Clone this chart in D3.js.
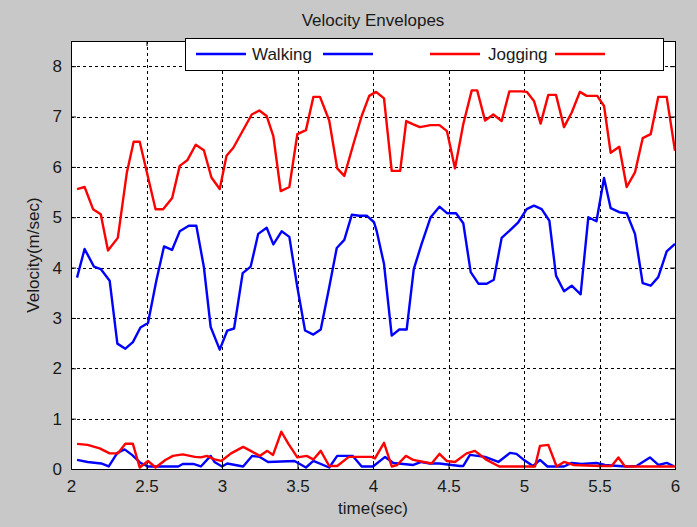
<!DOCTYPE html>
<html>
<head>
    <script src="https://d3js.org/d3.v7.min.js"></script>
    <style>
        body { margin: 0; background: #c8c8c8; }
        text { font-family: "Liberation Sans", Arial, sans-serif; fill: #1a1a1a; }
    </style>
</head>
<body>
    <div id="chart"></div>
    <script>
        // [time (sec), velocity (m/sec)]
        var walkUpper = [[2.04,3.80],[2.09,4.37],[2.152,4.02],[2.197,3.97],[2.256,3.74],[2.307,2.49],[2.36,2.39],[2.41,2.52],[2.46,2.81],[2.51,2.90],[2.565,3.74],[2.616,4.42],[2.669,4.35],[2.72,4.72],[2.78,4.83],[2.83,4.83],[2.88,4.01],[2.925,2.82],[2.985,2.37],[3.035,2.75],[3.08,2.79],[3.137,3.89],[3.19,4.02],[3.24,4.67],[3.296,4.79],[3.34,4.46],[3.395,4.72],[3.446,4.61],[3.499,3.61],[3.55,2.75],[3.605,2.67],[3.654,2.77],[3.71,3.61],[3.76,4.39],[3.81,4.55],[3.86,5.05],[3.91,5.03],[3.958,5.03],[4.007,4.90],[4.024,4.73],[4.073,4.07],[4.124,2.65],[4.174,2.77],[4.223,2.77],[4.27,3.97],[4.322,4.47],[4.382,5.00],[4.44,5.21],[4.49,5.08],[4.55,5.08],[4.598,4.88],[4.647,3.91],[4.698,3.68],[4.753,3.68],[4.80,3.76],[4.852,4.59],[4.903,4.73],[4.962,4.90],[5.018,5.16],[5.066,5.23],[5.117,5.16],[5.168,4.93],[5.212,3.84],[5.265,3.53],[5.316,3.64],[5.375,3.47],[5.426,5.00],[5.48,4.92],[5.53,5.78],[5.574,5.18],[5.631,5.10],[5.68,5.08],[5.735,4.67],[5.786,3.69],[5.839,3.64],[5.889,3.81],[5.945,4.32],[6.0,4.47]];

        var walkLower = [[2.04,0.18],[2.11,0.14],[2.20,0.11],[2.25,0.05],[2.307,0.32],[2.355,0.39],[2.404,0.28],[2.46,0.12],[2.51,0.05],[2.71,0.05],[2.74,0.10],[2.81,0.10],[2.86,0.05],[2.925,0.26],[2.95,0.14],[3.0,0.05],[3.035,0.11],[3.14,0.05],[3.199,0.26],[3.25,0.24],[3.305,0.14],[3.48,0.16],[3.556,0.03],[3.605,0.16],[3.71,0.03],[3.763,0.26],[3.866,0.26],[3.925,0.05],[4.0,0.05],[4.08,0.24],[4.135,0.12],[4.267,0.08],[4.32,0.14],[4.377,0.11],[4.44,0.11],[4.576,0.06],[4.598,0.06],[4.642,0.28],[4.742,0.24],[4.83,0.14],[4.907,0.32],[4.95,0.30],[4.995,0.19],[5.06,0.06],[5.106,0.18],[5.155,0.05],[5.265,0.05],[5.316,0.12],[5.38,0.10],[5.48,0.12],[5.536,0.08],[5.625,0.06],[5.68,0.05],[5.745,0.06],[5.834,0.23],[5.89,0.08],[5.945,0.12],[5.99,0.06]];

        var jogUpper = [[2.04,5.56],[2.09,5.60],[2.146,5.16],[2.197,5.06],[2.245,4.34],[2.31,4.59],[2.37,5.89],[2.415,6.50],[2.455,6.50],[2.56,5.16],[2.61,5.16],[2.67,5.38],[2.72,6.02],[2.77,6.13],[2.826,6.44],[2.88,6.33],[2.93,5.79],[2.985,5.56],[3.03,6.22],[3.075,6.38],[3.197,7.04],[3.247,7.12],[3.296,7.01],[3.34,6.61],[3.389,5.52],[3.446,5.60],[3.499,6.65],[3.556,6.73],[3.605,7.39],[3.649,7.39],[3.71,6.92],[3.763,5.97],[3.81,5.82],[3.87,6.45],[3.925,7.01],[3.975,7.41],[4.02,7.49],[4.073,7.36],[4.124,5.92],[4.18,5.92],[4.22,6.91],[4.263,6.85],[4.31,6.79],[4.382,6.83],[4.44,6.83],[4.49,6.71],[4.543,5.97],[4.598,6.85],[4.654,7.52],[4.69,7.52],[4.742,6.92],[4.797,7.04],[4.852,6.91],[4.903,7.50],[4.985,7.50],[5.018,7.49],[5.066,7.31],[5.11,6.86],[5.161,7.43],[5.212,7.43],[5.265,6.79],[5.316,7.08],[5.37,7.49],[5.415,7.41],[5.485,7.41],[5.53,7.21],[5.574,6.28],[5.631,6.40],[5.68,5.60],[5.735,5.89],[5.786,6.57],[5.839,6.65],[5.889,7.39],[5.945,7.39],[6.0,6.32]];

        var jogLower = [[2.04,0.50],[2.11,0.48],[2.19,0.41],[2.256,0.31],[2.31,0.31],[2.36,0.50],[2.41,0.50],[2.455,0.03],[2.51,0.16],[2.56,0.03],[2.625,0.18],[2.675,0.26],[2.74,0.29],[2.82,0.24],[2.86,0.23],[2.90,0.26],[2.95,0.19],[2.995,0.16],[3.06,0.31],[3.14,0.44],[3.19,0.36],[3.25,0.26],[3.30,0.36],[3.338,0.28],[3.393,0.74],[3.44,0.50],[3.499,0.23],[3.56,0.26],[3.605,0.19],[3.654,0.36],[3.71,0.06],[3.763,0.06],[3.84,0.24],[3.99,0.24],[4.013,0.21],[4.073,0.52],[4.124,0.05],[4.16,0.08],[4.218,0.26],[4.267,0.18],[4.388,0.11],[4.44,0.30],[4.488,0.16],[4.543,0.14],[4.62,0.31],[4.675,0.36],[4.753,0.18],[4.836,0.05],[5.073,0.05],[5.106,0.46],[5.161,0.48],[5.216,0.05],[5.265,0.14],[5.327,0.08],[5.503,0.06],[5.58,0.06],[5.625,0.23],[5.669,0.05],[6.0,0.05]];

        var xTicks = [2, 2.5, 3, 3.5, 4, 4.5, 5, 5.5, 6];
        var yTicks = [0, 1, 2, 3, 4, 5, 6, 7, 8];
        var legendNames = ["Walking", "Jogging"];
        var colors = ["#0000ff", "#ff0000"];

        var W = 697, H = 527;
        var margin = { top: 41, right: 22, bottom: 58, left: 71 };
        var width = W - margin.left - margin.right;
        var height = H - margin.top - margin.bottom;

        var root = d3.select("#chart").append("svg")
            .attr("width", W)
            .attr("height", H);

        root.append("rect").attr("width", W).attr("height", H).attr("fill", "#c8c8c8");

        var svg = root.append("g")
            .attr("transform", "translate(" + margin.left + "," + margin.top + ")");

        var xs = d3.scaleLinear().domain([2, 6]).range([0, width]);
        var ys = d3.scaleLinear().domain([0, 8.5]).range([height, 0]);

        svg.append("rect").attr("width", width).attr("height", height).attr("fill", "white");

        // dotted grid
        svg.append("g").selectAll("line").data(xTicks.slice(1, -1)).enter().append("line")
            .attr("x1", d => Math.round(xs(d)) + 0.5).attr("x2", d => Math.round(xs(d)) + 0.5)
            .attr("y1", 0).attr("y2", height)
            .attr("stroke", "#000").attr("stroke-dasharray", "3,3");
        svg.append("g").selectAll("line").data(yTicks.slice(1)).enter().append("line")
            .attr("y1", d => Math.round(ys(d)) + 0.5).attr("y2", d => Math.round(ys(d)) + 0.5)
            .attr("x1", 0).attr("x2", width)
            .attr("stroke", "#000").attr("stroke-dasharray", "3,3");

        // lines
        var line = d3.line().x(d => xs(d[0])).y(d => ys(d[1]));
        var series = [[walkUpper, 0], [walkLower, 0], [jogUpper, 1], [jogLower, 1]];
        series.forEach(function (s) {
            svg.append("path").datum(s[0])
                .attr("d", line)
                .attr("fill", "none")
                .attr("stroke", colors[s[1]])
                .attr("stroke-width", 2.4)
                .attr("stroke-linejoin", "round");
        });

        // axes, ticks pointing inward like matlab
        var xAxis = d3.axisBottom(xs).tickValues(xTicks).tickSize(-5).tickPadding(11).tickFormat(d3.format("~g"));
        var yAxis = d3.axisLeft(ys).tickValues(yTicks).tickSize(-5).tickPadding(9).tickFormat(d3.format("d"));
        var gx = svg.append("g").attr("transform", "translate(0," + height + ")").call(xAxis);
        var gy = svg.append("g").call(yAxis);
        svg.append("g").call(d3.axisTop(xs).tickValues(xTicks).tickSize(-5).tickFormat(""));
        svg.append("g").attr("transform", "translate(" + width + ",0)")
            .call(d3.axisRight(ys).tickValues(yTicks).tickSize(-5).tickFormat(""));
        svg.selectAll(".domain").remove();
        svg.selectAll(".tick line").attr("stroke", "#000");
        [gx, gy].forEach(g => g.selectAll("text").style("font-size", "17px").attr("fill", "#1a1a1a"));

        svg.append("rect").attr("x", 0.5).attr("y", 0.5).attr("width", width).attr("height", height)
            .attr("fill", "none").attr("stroke", "#000");

        // title and labels
        root.append("text").attr("x", margin.left + width / 2).attr("y", 26)
            .attr("text-anchor", "middle").style("font-size", "17px").text("Velocity Envelopes");
        root.append("text").attr("x", margin.left + width / 2).attr("y", 514)
            .attr("text-anchor", "middle").style("font-size", "17px").text("time(sec)");
        root.append("text").attr("transform", "translate(39," + (margin.top + height / 2) + ") rotate(-90)")
            .attr("text-anchor", "middle").style("font-size", "17px").text("Velocity(m/sec)");

        // legend
        var lg = root.append("g");
        lg.append("rect").attr("x", 185.5).attr("y", 38.5).attr("width", 478).attr("height", 32)
            .attr("fill", "white").attr("stroke", "#000");
        var items = [[196, 252, 323], [430, 488, 555]];
        items.forEach(function (it, i) {
            lg.append("line").attr("x1", it[0]).attr("x2", it[0] + 50).attr("y1", 54).attr("y2", 54)
                .attr("stroke", colors[i]).attr("stroke-width", 2.4);
            lg.append("text").attr("x", it[1]).attr("y", 60).style("font-size", "17px").text(legendNames[i]);
            lg.append("line").attr("x1", it[2]).attr("x2", it[2] + 50).attr("y1", 54).attr("y2", 54)
                .attr("stroke", colors[i]).attr("stroke-width", 2.4);
        });
    </script>
</body>
</html>
